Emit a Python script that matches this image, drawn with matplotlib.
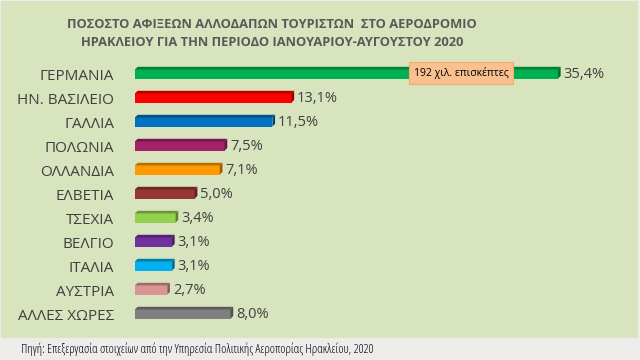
import numpy as np
import matplotlib.pyplot as plt
import matplotlib.colors as mcolors
from matplotlib.patches import Polygon

countries = ['ΓΕΡΜΑΝΙΑ', 'ΗΝ. ΒΑΣΙΛΕΙΟ', 'ΓΑΛΛΙΑ', 'ΠΟΛΩΝΙΑ', 'ΟΛΛΑΝΔΙΑ', 'ΕΛΒΕΤΙΑ',
             'ΤΣΕΧΙΑ', 'ΒΕΛΓΙΟ', 'ΙΤΑΛΙΑ', 'ΑΥΣΤΡΙΑ', 'ΑΛΛΕΣ ΧΩΡΕΣ']
shares = [35.4, 13.1, 11.5, 7.5, 7.1, 5.0, 3.4, 3.1, 3.1, 2.7, 8.0]
bar_colors = ['#00B050', '#FF0000', '#0070C0', '#A3206A', '#FF9900', '#943634',
              '#92D050', '#7030A0', '#00B0F0', '#D99594', '#7F7F7F']
title = ('ΠΟΣΟΣΤΟ ΑΦΙΞΕΩΝ ΑΛΛΟΔΑΠΩΝ ΤΟΥΡΙΣΤΩΝ  ΣΤΟ ΑΕΡΟΔΡΟΜΙΟ\n'
         'ΗΡΑΚΛΕΙΟΥ ΓΙΑ ΤΗΝ ΠΕΡΙΟΔΟ ΙΑΝΟΥΑΡΙΟΥ-ΑΥΓΟΥΣΤΟΥ 2020')
note = '192 χιλ. επισκέπτες'
source = 'Πηγή: Επεξεργασία στοιχείων από την Υπηρεσία Πολιτικής Αεροπορίας Ηρακλείου, 2020'

W, H = 640, 360
fig = plt.figure(figsize=(6.4, 3.6), dpi=100)
fig.patch.set_facecolor('#EEEBEB')

# green panel behind the chart
bg = fig.add_axes([1 / W, 22 / H, 637 / W, 337 / H], zorder=0)
bg.set_facecolor('#D7E4BD')
bg.set_xticks([])
bg.set_yticks([])
for s in bg.spines.values():
    s.set_visible(False)

ax = fig.add_axes([135 / W, 34 / H, 478 / W, 264 / H], zorder=1)
ax.set_facecolor('none')
ax.set_xlim(0, 40)
ax.set_ylim(len(countries) - 0.5, -0.5)
for s in ax.spines.values():
    s.set_visible(False)
ax.set_xticks([])
ax.set_yticks(range(len(countries)))
ax.set_yticklabels(countries, fontsize=11, color='#404040', family='Open Sans',
                   va='center_baseline')
ax.tick_params(axis='y', length=0, pad=15)

ypos = np.arange(len(countries))
bh = 0.38
dx, dy = 0.22, 0.11  # 3d depth in data units
ax.barh(ypos, shares, height=bh, color=bar_colors, zorder=3)
for y, v, c in zip(ypos, shares, bar_colors):
    dark = np.array(mcolors.to_rgb(c)) * 0.72
    top = y - bh / 2
    ax.add_patch(Polygon([(0, top), (v, top), (v + dx, top - dy), (dx, top - dy)],
                         closed=True, facecolor=dark, edgecolor='none', zorder=3))
    ax.add_patch(Polygon([(v, top), (v + dx, top - dy), (v + dx, y + bh / 2 - dy), (v, y + bh / 2)],
                         closed=True, facecolor=dark * 0.85, edgecolor='none', zorder=3))
    ax.text(v + dx + 0.25, y + 0.04, f'{v:.1f}%'.replace('.', ','), va='center', ha='left',
            fontsize=10.5, color='#404040', family='Open Sans')

ax.text(27.3, -0.04, note, ha='center', va='center', fontsize=7.5, color='black',
        family='Open Sans', zorder=5,
        bbox=dict(boxstyle='square,pad=0.45', facecolor='#FBC08F', edgecolor='#F5A96A', lw=0.8))

fig.text(272 / W, 1 - 33.5 / H, title, ha='center', va='center', fontsize=9.3,
         fontweight='bold', color='#595959', family='Open Sans', linespacing=1.5,
         zorder=5)

fig.text(21 / W, 1 - 349 / H, source, ha='left', va='center', fontsize=9,
         color='black', family='Open Sans', fontstretch='condensed', zorder=5)

fig.savefig('out.png', dpi=100, facecolor=fig.get_facecolor())
